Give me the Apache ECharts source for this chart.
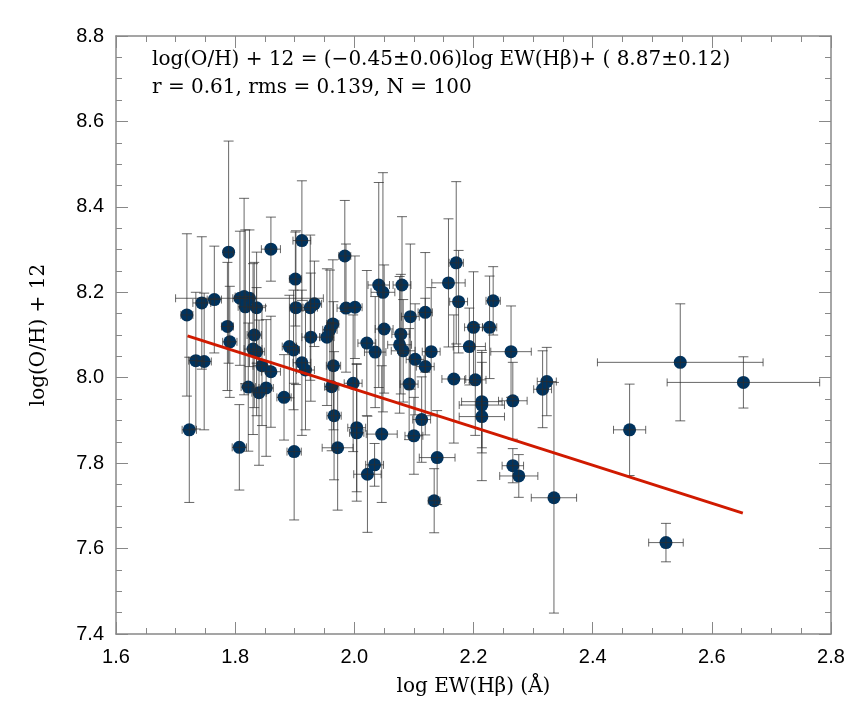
<!DOCTYPE html>
<html>
<head>
<meta charset="utf-8">
<script src="https://cdn.jsdelivr.net/npm/echarts@6/dist/echarts.min.js"></script>
<style>html,body{margin:0;padding:0;background:#fff}#c{width:866px;height:709px}</style>
</head>
<body>
<div id="c"></div>
<script>
// log EW(Hbeta)
const logEW = [1.719,1.744,1.765,1.789,1.860,1.912,1.901,1.808,1.815,1.824,
1.817,1.836,1.902,1.926,1.933,1.787,1.791,1.832,1.830,1.836,
1.891,1.898,1.734,1.748,1.845,1.860,1.822,1.840,1.852,1.882,
1.912,1.918,1.927,1.723,1.807,1.899,1.984,1.986,2.001,2.041,
2.048,2.080,2.094,2.119,2.158,2.171,2.175,1.964,1.959,1.954,
2.050,2.021,2.035,2.078,2.076,2.082,2.102,2.129,2.119,2.167,
1.965,1.962,1.998,1.966,1.972,2.004,2.004,2.046,2.034,2.022,
2.113,2.100,2.139,2.134,2.233,2.200,2.227,2.193,2.263,2.203,
2.214,2.214,2.214,2.266,2.316,2.323,2.266,2.276,2.335,2.547,
2.653,2.462,2.523,2.092];
// log(O/H)+12
const OH = [8.147,8.175,8.183,8.294,8.301,8.321,8.231,8.186,8.190,8.186,
8.166,8.164,8.164,8.164,8.173,8.120,8.084,8.100,8.067,8.061,
8.073,8.065,8.040,8.038,8.028,8.014,7.978,7.965,7.976,7.954,
8.035,8.018,8.095,7.878,7.837,7.827,8.285,8.163,8.165,8.217,
8.200,8.217,8.143,8.153,8.222,8.269,8.178,8.126,8.112,8.095,
8.114,8.081,8.060,8.102,8.077,8.063,8.043,8.061,8.026,7.997,
8.028,7.979,7.987,7.911,7.836,7.883,7.871,7.868,7.796,7.774,
7.902,7.864,7.813,7.712,8.180,8.118,8.118,8.073,8.061,7.995,
7.944,7.936,7.909,7.946,7.973,7.991,7.794,7.770,7.719,8.036,
7.989,7.878,7.614,7.985];
// error in log(O/H)+12
const OHerr = [0.19,0.155,0.125,0.26,0.075,0.14,0.11,0.157,0.23,0.16,
0.18,0.13,0.18,0.17,0.10,0.15,0.13,0.17,0.20,0.15,
0.12,0.14,0.16,0.16,0.14,0.13,0.15,0.17,0.16,0.10,
0.17,0.14,0.15,0.17,0.10,0.16,0.13,0.15,0.12,0.24,
0.28,0.16,0.17,0.14,0.15,0.19,0.12,0.15,0.14,0.16,
0.15,0.17,0.13,0.14,0.16,0.12,0.13,0.15,0.16,0.15,
0.15,0.15,0.16,0.15,0.146,0.15,0.16,0.16,0.05,0.136,
0.10,0.09,0.11,0.075,0.08,0.13,0.12,0.09,0.107,0.13,
0.12,0.10,0.15,0.09,0.09,0.08,0.04,0.05,0.27,0.137,
0.06,0.107,0.045,0.13];
// error in log EW(Hbeta)
const EWerr = [0.01,0.015,0.012,0.008,0.016,0.015,0.01,0.012,0.015,0.124,
0.012,0.015,0.01,0.012,0.012,0.01,0.012,0.012,0.015,0.013,
0.012,0.01,0.012,0.012,0.015,0.016,0.012,0.012,0.012,0.012,
0.015,0.015,0.015,0.012,0.012,0.012,0.01,0.015,0.012,0.018,
0.02,0.015,0.015,0.012,0.028,0.012,0.015,0.01,0.012,0.012,
0.015,0.015,0.018,0.015,0.02,0.02,0.015,0.015,0.015,0.02,
0.012,0.012,0.015,0.012,0.026,0.015,0.012,0.026,0.015,0.023,
0.015,0.015,0.03,0.01,0.012,0.015,0.012,0.027,0.034,0.018,
0.034,0.038,0.038,0.024,0.015,0.016,0.018,0.032,0.038,0.139,
0.128,0.027,0.029,0.015];
// fitted line end points
const fitX = [1.72, 2.652];
const fitY = [8.098, 7.683];
const xTicks = {min:1.6, max:2.8, step:0.2};
const yTicks = {min:7.4, max:8.8, step:0.2};
const line1 = 'log(O/H) + 12 = (\u22120.45\u00b10.06)log EW(H\u03b2)+ ( 8.87\u00b10.12)';
const line2 = 'r = 0.61, rms = 0.139, N = 100';

const pts = logEW.map((x,i)=>[x, OH[i], EWerr[i], OHerr[i]]);
const fitData = fitX.map((x,i)=>[x, fitY[i]]);

const frameColor = '#888';
const labelFont = 'Liberation Sans';
const textFont = 'DejaVu Serif';

function axisBase(extra){
  return Object.assign({
    type:'value', scale:true,
    axisLine:{show:true, onZero:false, lineStyle:{color:frameColor, width:1.5}},
    axisTick:{show:true, inside:true, length:12, lineStyle:{color:frameColor, width:1}},
    minorTick:{show:true, splitNumber:4, length:6, lineStyle:{color:frameColor, width:1}},
    splitLine:{show:false}
  }, extra);
}

const chart = echarts.init(document.getElementById('c'), null, {renderer:'canvas'});
chart.setOption({
  backgroundColor:'#fff',
  animation:false,
  grid:{left:116, top:36, width:715, height:598},
  xAxis:[
    axisBase({min:xTicks.min, max:xTicks.max, interval:xTicks.step, position:'bottom',
      axisLabel:{color:'#000', fontFamily:labelFont, fontSize:20, margin:13, formatter:v=>v.toFixed(1)},
      name:'log EW(H\u03b2) (\u00c5)', nameLocation:'middle', nameGap:43,
      nameTextStyle:{color:'#000', fontFamily:textFont, fontSize:20}}),
    axisBase({min:xTicks.min, max:xTicks.max, interval:xTicks.step, position:'top', axisLabel:{show:false}})
  ],
  yAxis:[
    axisBase({min:yTicks.min, max:yTicks.max, interval:yTicks.step, position:'left',
      axisLabel:{color:'#000', fontFamily:labelFont, fontSize:20, margin:12, formatter:v=>v.toFixed(1)},
      name:'log(O/H) + 12', nameLocation:'middle', nameGap:67, nameRotate:90,
      nameTextStyle:{color:'#000', fontFamily:textFont, fontSize:20}}),
    axisBase({min:yTicks.min, max:yTicks.max, interval:yTicks.step, position:'right', axisLabel:{show:false}})
  ],
  graphic:[
    {type:'text', left:152, top:50, style:{text:line1, fill:'#000', font:'20px "DejaVu Serif"'}},
    {type:'text', left:152, top:78, style:{text:line2, fill:'#000', font:'20px "DejaVu Serif"'}}
  ],
  series:[
    {type:'scatter', data:pts, symbolSize:13, itemStyle:{color:'#00335e', opacity:1}, z:2},
    {type:'custom', data:pts, z:3, clip:false,
      renderItem:function(params, api){
        const x=api.value(0), y=api.value(1), ex=api.value(2), ey=api.value(3);
        const c=api.coord([x,y]);
        const t=api.coord([x,y+ey]), b=api.coord([x,y-ey]);
        const l=api.coord([x-ex,y]), r=api.coord([x+ex,y]);
        const style={stroke:'rgba(45,45,45,0.72)', lineWidth:1};
        const cw=5, ch=4;
        return {type:'group', children:[
          {type:'line', shape:{x1:c[0],y1:t[1],x2:c[0],y2:b[1]}, style},
          {type:'line', shape:{x1:c[0]-cw,y1:t[1],x2:c[0]+cw,y2:t[1]}, style},
          {type:'line', shape:{x1:c[0]-cw,y1:b[1],x2:c[0]+cw,y2:b[1]}, style},
          {type:'line', shape:{x1:l[0],y1:c[1],x2:r[0],y2:c[1]}, style},
          {type:'line', shape:{x1:l[0],y1:c[1]-ch,x2:l[0],y2:c[1]+ch}, style},
          {type:'line', shape:{x1:r[0],y1:c[1]-ch,x2:r[0],y2:c[1]+ch}, style}
        ]};
      }
    },
    {type:'line', data:fitData, symbol:'none', lineStyle:{color:'#d01a00', width:3}, z:4}
  ]
});
</script>
</body>
</html>
